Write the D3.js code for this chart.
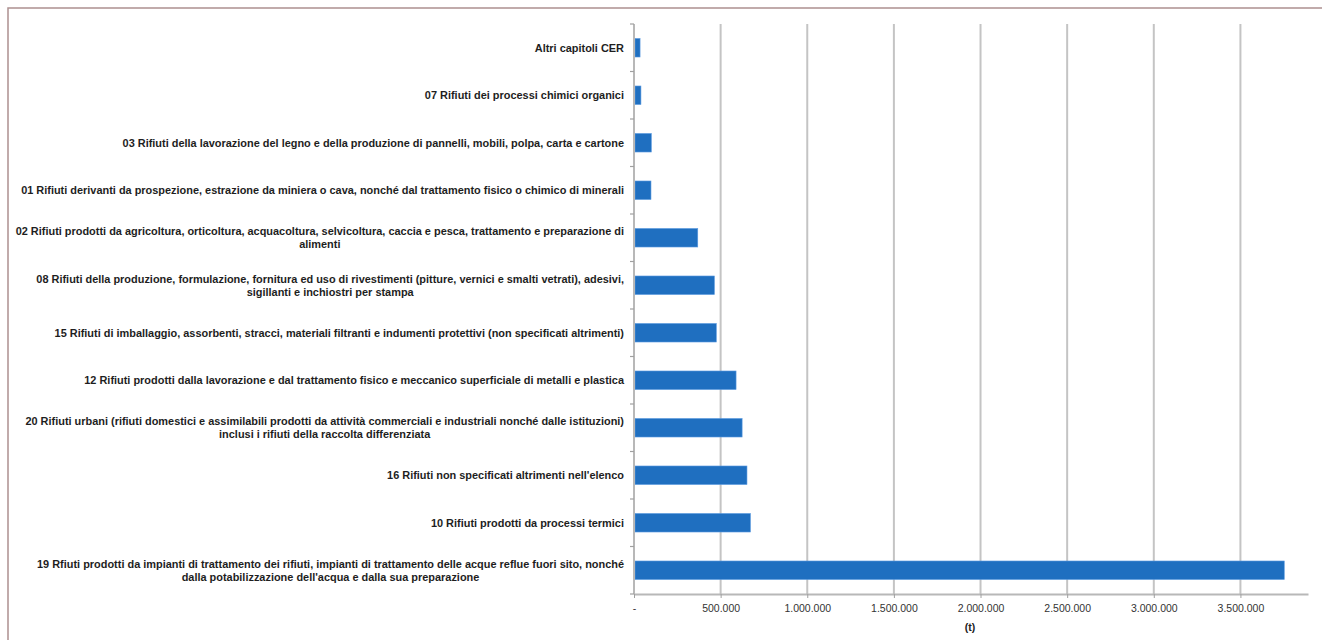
<!DOCTYPE html>
<html>
<head>
<meta charset="utf-8">
<script src="https://cdn.jsdelivr.net/npm/d3@7"></script>
<style>
  html, body { margin: 0; padding: 0; background: #ffffff; }
  svg { display: block; }
</style>
</head>
<body>
<svg id="chart" width="1322" height="640"></svg>
<script>
// ---- data ----
const categories = [
  "Altri capitoli CER",
  "07 Rifiuti dei processi chimici organici",
  "03 Rifiuti della lavorazione del legno e della produzione di pannelli, mobili, polpa, carta e cartone",
  "01 Rifiuti derivanti da prospezione, estrazione da miniera o cava, nonché dal trattamento fisico o chimico di minerali",
  "02 Rifiuti prodotti da agricoltura, orticoltura, acquacoltura, selvicoltura, caccia e pesca, trattamento e preparazione di\nalimenti",
  "08 Rifiuti della produzione, formulazione, fornitura ed uso di rivestimenti (pitture, vernici e smalti vetrati), adesivi,\nsigillanti e inchiostri per stampa",
  "15 Rifiuti di imballaggio, assorbenti, stracci, materiali filtranti e indumenti protettivi (non specificati altrimenti)",
  "12 Rifiuti prodotti dalla lavorazione e dal trattamento fisico e meccanico superficiale di metalli e plastica",
  "20 Rifiuti urbani (rifiuti domestici e assimilabili prodotti da attività commerciali e industriali nonché dalle istituzioni)\ninclusi i rifiuti della raccolta differenziata",
  "16 Rifiuti non specificati altrimenti nell'elenco",
  "10 Rifiuti prodotti da processi termici",
  "19 Rfiuti prodotti da impianti di trattamento dei rifiuti, impianti di trattamento delle acque reflue fuori sito, nonché\ndalla potabilizzazione dell'acqua e dalla sua preparazione"
];
const values = [35000, 40000, 100000, 98000, 368000, 464000, 475000, 589000, 624000, 652000, 672000, 3753000];
const tickValues = [0, 500000, 1000000, 1500000, 2000000, 2500000, 3000000, 3500000];
const tickLabels = ["-", "500.000", "1.000.000", "1.500.000", "2.000.000", "2.500.000", "3.000.000", "3.500.000"];
const axisTitle = "(t)";

// ---- layout ----
const svg = d3.select("#chart");
const pLeft = 634, pRight = 1308, pTop = 24, pBottom = 594;
const FONT = "'Liberation Sans', Arial, sans-serif";

// frame
svg.append("rect")
  .attr("x", 8).attr("y", 8).attr("width", 1330).attr("height", 650)
  .attr("fill", "none").attr("stroke", "#ad9090").attr("stroke-width", 1.5);

const x = d3.scaleLinear().domain([0, 3890000]).range([pLeft, pRight]);
const y = d3.scaleBand().domain(categories).range([pTop, pBottom]).paddingInner(0.61).paddingOuter(0.305);
const yb = d3.scaleBand().domain(categories).range([pTop, pBottom]);

// gridlines
svg.append("g").selectAll("line")
  .data(tickValues.slice(1))
  .join("line")
  .attr("x1", d => x(d)).attr("x2", d => x(d))
  .attr("y1", pTop).attr("y2", pBottom)
  .attr("stroke", "#c4c4c4").attr("stroke-width", 2);

// bars
svg.append("g").selectAll("rect")
  .data(categories)
  .join("rect")
  .attr("x", x(0) + 1)
  .attr("y", d => y(d))
  .attr("width", (d, i) => x(values[i]) - x(0) - 1)
  .attr("height", y.bandwidth())
  .attr("fill", "#1f6fc0")
  .attr("stroke", "#5b9ae0").attr("stroke-width", 0.6);

// y axis line and category ticks
svg.append("line")
  .attr("x1", pLeft).attr("x2", pLeft).attr("y1", pTop).attr("y2", pBottom)
  .attr("stroke", "#b8b8b8").attr("stroke-width", 2);
const bounds = categories.map(c => yb(c)).concat([pBottom]);
svg.append("g").selectAll("line")
  .data(bounds)
  .join("line")
  .attr("x1", pLeft - 4).attr("x2", pLeft)
  .attr("y1", d => d).attr("y2", d => d)
  .attr("stroke", "#a0a0a0").attr("stroke-width", 1.2);

// x axis
const xAxis = d3.axisBottom(x)
  .tickValues(tickValues)
  .tickFormat((d, i) => tickLabels[i])
  .tickSize(4)
  .tickSizeOuter(0);
const gx = svg.append("g").attr("transform", `translate(0,${pBottom})`).call(xAxis);
gx.select(".domain").attr("stroke", "#b8b8b8").attr("stroke-width", 2);
gx.selectAll(".tick line").attr("stroke", "#a0a0a0");
gx.selectAll(".tick text")
  .attr("font-family", FONT)
  .attr("font-size", 10.5).attr("fill", "#333").attr("dy", "1.05em");

// x axis title
svg.append("text")
  .attr("x", 970).attr("y", 631)
  .attr("text-anchor", "middle")
  .attr("font-family", FONT)
  .attr("font-size", 10.5).attr("font-weight", "bold").attr("fill", "#222")
  .text(axisTitle);

// category labels (condensed to mimic the narrow original face)
const labelG = svg.append("g")
  .attr("font-family", FONT)
  .attr("font-size", 11.5).attr("font-weight", "bold").attr("fill", "#1e1e1e");
const labelRight = 624;
const condense = 0.95;
categories.forEach(c => {
  const lines = c.split("\n");
  const cy = yb(c) + yb.bandwidth() / 2;
  const lh = 13;
  const g = labelG.append("g");
  const texts = lines.map((ln, j) => g.append("text")
    .attr("y", cy + (j - (lines.length - 1) / 2) * lh)
    .attr("dy", "0.35em")
    .text(ln));
  const widths = texts.map(t => t.node().getComputedTextLength() * condense);
  const maxW = d3.max(widths);
  texts.forEach((t, j) => t
    .attr("text-anchor", "middle")
    .attr("x", labelRight - maxW / 2)
    .attr("textLength", widths[j])
    .attr("lengthAdjust", "spacingAndGlyphs"));
});
</script>
</body>
</html>
